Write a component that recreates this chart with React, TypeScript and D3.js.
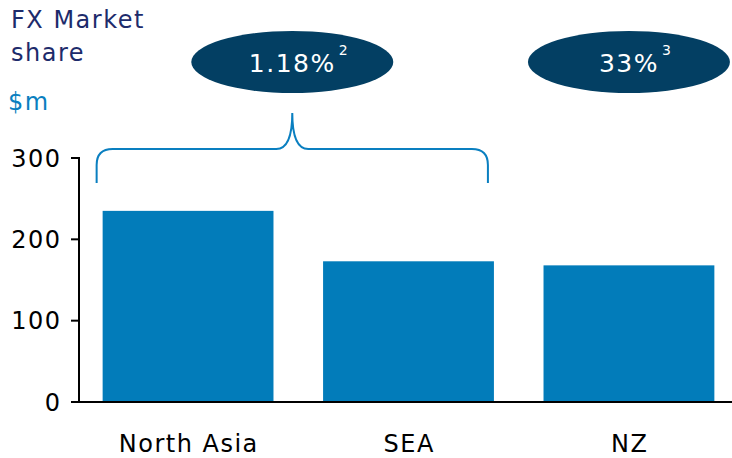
import React from "react";
import * as d3 from "d3";

const categories = ["North Asia", "SEA", "NZ"];
const values = [235, 173, 168];
const yTicks = [0, 100, 200, 300];
const bubbleLabels = ["1.18%", "33%"];
const bubbleSups = ["2", "3"];

const W = 732;
const H = 458;
const FONT = "'DejaVu Sans', Verdana, sans-serif";
const LS = 1.5;

export default function App() {
  const x = d3.scaleBand<string>().domain(categories).range([85, 732]).paddingInner(0.225).paddingOuter(0.08);
  const y = d3.scaleLinear().domain([0, 300]).range([402, 158]);
  const bw = x.bandwidth();
  const axisX = 79;

  const left = (x("North Asia") as number) - 6;
  const right = (x("SEA") as number) + bw - 6;
  const mid = (left + right) / 2;
  const by = 149;
  const bottom = 183;
  const tip = 113;
  const r = 16;
  const brace = `M${left},${bottom} L${left},${by + r} Q${left},${by} ${left + r},${by} L${mid - r},${by} Q${mid},${by} ${mid},${tip} Q${mid},${by} ${mid + r},${by} L${right - r},${by} Q${right},${by} ${right},${by + r} L${right},${bottom}`;

  const bubbleCx = [mid, (x("NZ") as number) + bw / 2];

  return (
    <svg width={W} height={H} style={{ position: "absolute", left: 0, top: 0, background: "#fff" }} fontFamily={FONT}>
      <text x={11} y={28} fontSize={24} letterSpacing={LS} fill="#1d2b6b">FX Market</text>
      <text x={11} y={61} fontSize={24} letterSpacing={LS} fill="#1d2b6b">share</text>
      <text x={8} y={110} fontSize={24} letterSpacing={LS} fill="#0a7fc0">$m</text>

      {bubbleLabels.map((b, i) => (
        <g key={i}>
          <ellipse cx={bubbleCx[i]} cy={62} rx={101} ry={31} fill="#033f63" />
          <text x={bubbleCx[i] + 6} y={72} fontSize={25} letterSpacing={LS} fill="#fff" textAnchor="middle">
            {b}
            <tspan dx={3} dy={-17} fontSize={14} letterSpacing={0}>{bubbleSups[i]}</tspan>
          </text>
        </g>
      ))}

      <path d={brace} fill="none" stroke="#0a7fc0" strokeWidth={2} />

      {categories.map((c, i) => (
        <rect key={c} x={x(c)} y={y(values[i])} width={bw} height={y(0) - y(values[i])} fill="#027cba" />
      ))}

      <line x1={axisX} x2={axisX} y1={y(300) - 1} y2={y(0)} stroke="#000" strokeWidth={2} />
      <line x1={71} x2={732} y1={y(0)} y2={y(0)} stroke="#000" strokeWidth={2} />
      {yTicks.map((t) => (
        <g key={t}>
          <line x1={71} x2={axisX} y1={y(t)} y2={y(t)} stroke="#000" strokeWidth={2} />
          <text x={60 + LS} y={y(t)} dy="0.36em" fontSize={24} letterSpacing={LS} textAnchor="end" fill="#000">
            {t}
          </text>
        </g>
      ))}

      {categories.map((c) => (
        <text key={c} x={(x(c) as number) + bw / 2 + LS / 2} y={452} fontSize={24} letterSpacing={LS} textAnchor="middle" fill="#000">
          {c}
        </text>
      ))}
    </svg>
  );
}
